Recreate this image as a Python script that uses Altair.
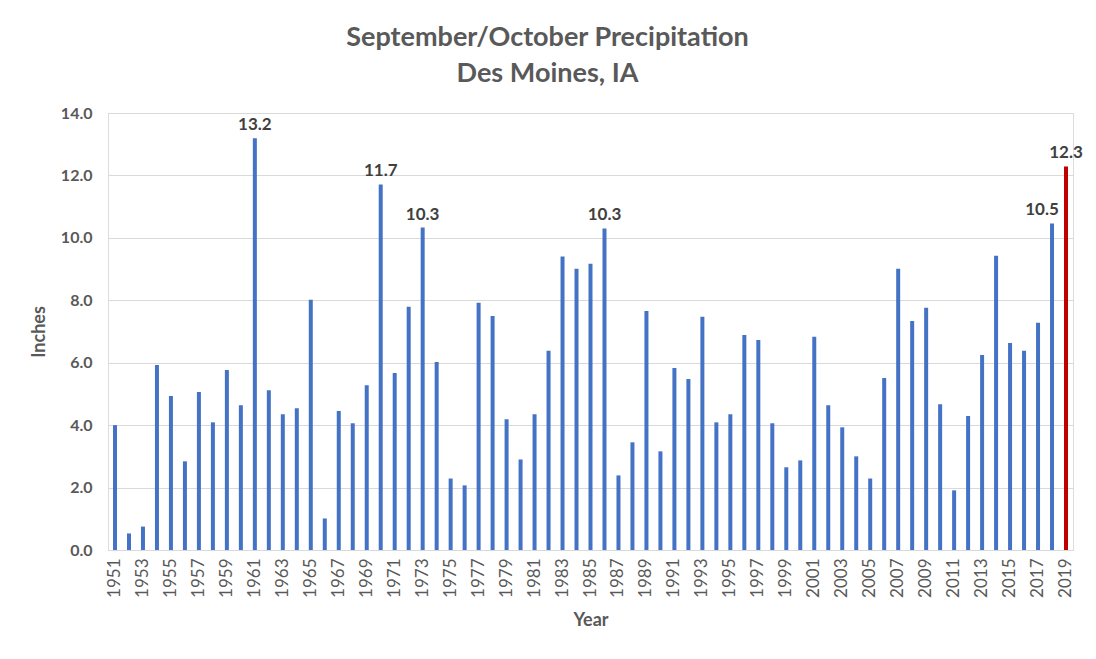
import altair as alt
import pandas as pd

years = list(range(1951, 2020))
precip = [
    4.00, 0.53, 0.75, 5.93, 4.93, 2.84, 5.06, 4.09, 5.77, 4.64,
    13.19, 5.12, 4.35, 4.54, 8.02, 1.01, 4.45, 4.06, 5.28, 11.71,
    5.67, 7.79, 10.33, 6.02, 2.29, 2.07, 7.92, 7.50, 4.19, 2.90,
    4.35, 6.38, 9.40, 9.01, 9.17, 10.30, 2.39, 3.45, 7.66, 3.16,
    5.83, 5.48, 7.47, 4.09, 4.35, 6.89, 6.73, 4.06, 2.65, 2.87,
    6.83, 4.64, 3.93, 3.00, 2.29, 5.51, 9.01, 7.34, 7.76, 4.67,
    1.91, 4.29, 6.25, 9.43, 6.63, 6.38, 7.28, 10.46, 12.29,
]
labeled_years = [1961, 1970, 1973, 1986, 2018, 2019]
shifted_label_year = 2018
tick_years = [y for y in years if y % 2 == 1]
y_ticks = [0, 2, 4, 6, 8, 10, 12, 14]

df = pd.DataFrame({"Year": years, "Inches": precip})
df["label"] = [f"{v:.1f}" if y in labeled_years else "" for y, v in zip(years, precip)]

FONT = "Lato"
GRAY = "#595959"

x_enc = alt.X(
    "Year:O",
    scale=alt.Scale(paddingInner=0, paddingOuter=0),
    axis=alt.Axis(
        values=tick_years,
        labelAngle=-90,
        labelFontSize=17,
        labelColor=GRAY,
        labelFont=FONT,
        labelPadding=8,
        labelBaseline="middle",
        ticks=False,
        domainColor="#d9d9d9",
        domainWidth=1,
        title="Year",
        titleFont=FONT,
        titleFontSize=18,
        titleFontWeight="bold",
        titleColor=GRAY,
        titlePadding=14,
    ),
)

bars = alt.Chart(df).mark_bar(size=4).encode(
    x=x_enc,
    y=alt.Y(
        "Inches:Q",
        scale=alt.Scale(domain=[0, 14], nice=False),
        axis=alt.Axis(
            values=y_ticks,
            format=".1f",
            labelFontSize=16,
            labelFontWeight="bold",
            labelColor=GRAY,
            labelFont=FONT,
            labelPadding=16,
            ticks=False,
            domain=False,
            gridColor="#d9d9d9",
            gridWidth=1,
            title="Inches",
            titleFont=FONT,
            titleFontSize=18,
            titleFontWeight="bold",
            titleColor=GRAY,
            titlePadding=12,
        ),
    ),
    color=alt.condition(alt.datum.Year == 2019, alt.value("#c00000"), alt.value("#4472c4")),
)

text_style = dict(font=FONT, fontSize=17, fontWeight="bold", color="#404040", baseline="alphabetic", dy=-8)

labels = alt.Chart(df).transform_filter(
    alt.datum.Year != shifted_label_year
).mark_text(**text_style).encode(
    x=alt.X("Year:O"),
    y=alt.Y("Inches:Q"),
    text="label:N",
)

labels_shifted = alt.Chart(df).transform_filter(
    alt.datum.Year == shifted_label_year
).mark_text(dx=-10, **text_style).encode(
    x=alt.X("Year:O"),
    y=alt.Y("Inches:Q"),
    text="label:N",
)

chart = (
    alt.layer(bars, labels, labels_shifted)
    .properties(
        width=965,
        height=437,
        autosize=alt.AutoSizeParams(type="none"),
        padding={"left": 100, "top": 105, "right": 15, "bottom": 100},
        title=alt.TitleParams(
            text=["September/October Precipitation", "Des Moines, IA"],
            font=FONT,
            fontSize=27,
            fontWeight="bold",
            color=GRAY,
            lineHeight=36,
            anchor="middle",
            dx=-43,
            offset=17,
        ),
    )
    .configure_view(stroke=None)
    .configure(background="white")
)

chart.save("out.html", embed_options={"renderer": "svg", "actions": False})
